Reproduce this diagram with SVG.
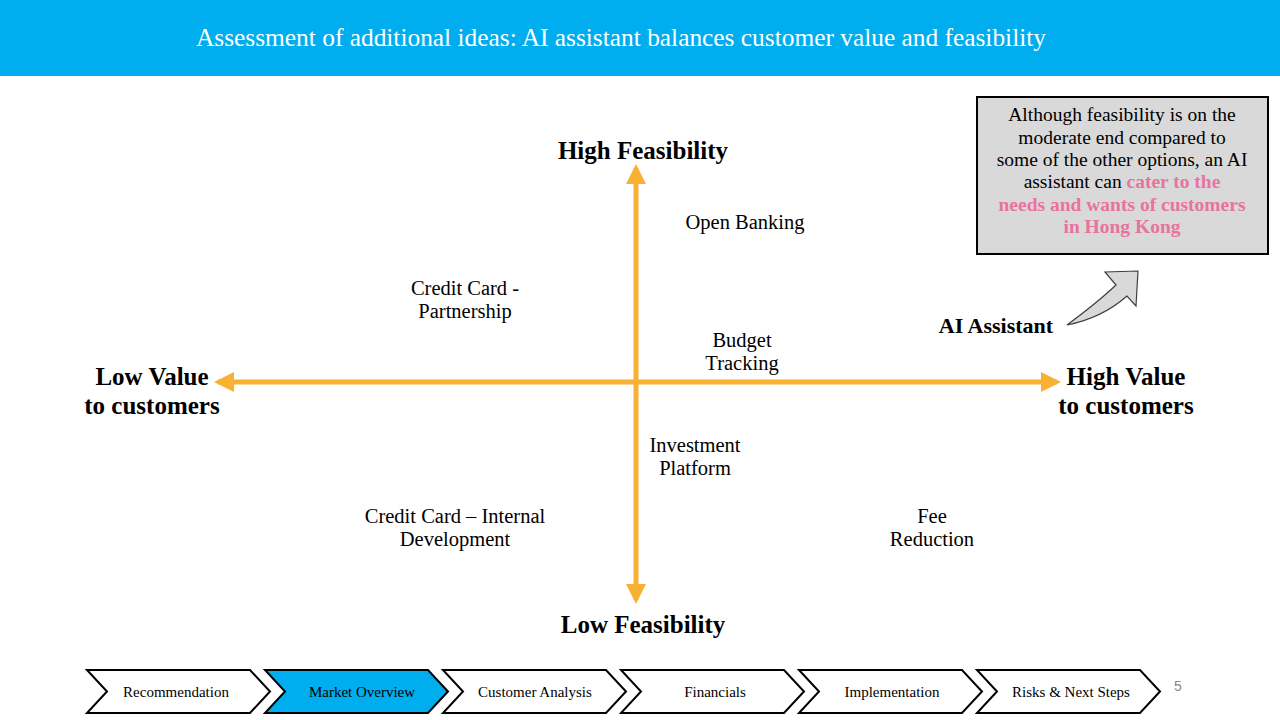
<svg xmlns="http://www.w3.org/2000/svg" width="1280" height="720" viewBox="0 0 1280 720">
<defs>
<style>
text{font-family:"Liberation Serif","DejaVu Serif",serif;fill:#000;text-anchor:middle}
.t{font-size:20.5px}
.b{font-size:25px;font-weight:bold}
.chev{fill:#fff;stroke:#000;stroke-width:2}
.ct{font-size:15px}
.cb{font-size:19.5px}
.pk{fill:#E8739E;font-weight:bold}
.axis{stroke:#F8B133;stroke-width:5;fill:none}
</style>
<marker id="ah" viewBox="0 0 10 10" refX="8" refY="5" markerWidth="4" markerHeight="4" orient="auto-start-reverse" markerUnits="strokeWidth">
<path d="M0,0 L10,5 L0,10 Z" fill="#F8B133"/>
</marker>
</defs>
<rect width="1280" height="720" fill="#fff"/>
<g id="header">
<rect x="0" y="0" width="1280" height="76" fill="#00AEEF"/>
<text x="621" y="46" style="font-size:25px;fill:#fff" textLength="850" lengthAdjust="spacingAndGlyphs">Assessment of additional ideas: AI assistant balances customer value and feasibility</text>
</g>
<g id="connectors">
<line class="axis" x1="636" y1="168" x2="636" y2="600" marker-start="url(#ah)" marker-end="url(#ah)"/>
<line class="axis" x1="218" y1="382" x2="1057" y2="382" marker-start="url(#ah)" marker-end="url(#ah)"/>
<path d="M1067,325 Q1098,302 1116,285 L1105,272 L1138,271 L1136,306 L1127,296 Q1102,318 1067,325 Z" fill="#D9D9D9" stroke="#404040" stroke-width="1.2"/>
</g>
<g id="high-feasibility"><text class="b" x="643" y="159">High Feasibility</text></g>
<g id="low-feasibility"><text class="b" x="643" y="633">Low Feasibility</text></g>
<g id="low-value"><text class="b" x="152" y="385">Low Value</text><text class="b" x="152" y="414">to customers</text></g>
<g id="high-value"><text class="b" x="1126" y="385">High Value</text><text class="b" x="1126" y="414">to customers</text></g>
<g id="open-banking"><text class="t" x="745" y="229">Open Banking</text></g>
<g id="cc-partnership"><text class="t" x="465" y="295">Credit Card -</text><text class="t" x="465" y="318">Partnership</text></g>
<g id="budget-tracking"><text class="t" x="742" y="347">Budget</text><text class="t" x="742" y="370">Tracking</text></g>
<g id="investment-platform"><text class="t" x="695" y="452">Investment</text><text class="t" x="695" y="475">Platform</text></g>
<g id="cc-internal"><text class="t" x="455" y="523">Credit Card – Internal</text><text class="t" x="455" y="546">Development</text></g>
<g id="fee-reduction"><text class="t" x="932" y="523">Fee</text><text class="t" x="932" y="546">Reduction</text></g>
<g id="ai-assistant"><text x="996" y="333" style="font-size:22px;font-weight:bold">AI Assistant</text></g>
<g id="callout">
<rect x="977" y="97" width="291" height="157" fill="#D9D9D9" stroke="#000" stroke-width="2"/>
<text class="cb" x="1122" y="121">Although feasibility is on the</text>
<text class="cb" x="1122" y="144">moderate end compared to</text>
<text class="cb" x="1122" y="166">some of the other options, an AI</text>
<text class="cb" x="1122" y="188">assistant can <tspan class="pk">cater to the</tspan></text>
<text class="cb pk" x="1122" y="211">needs and wants of customers</text>
<text class="cb pk" x="1122" y="233">in Hong Kong</text>
</g>
<g id="nav-recommendation"><path class="chev" d="M87,670 L250,670 L270,691.5 L250,713 L87,713 L107,691.5 Z"/><text class="ct" x="176" y="697">Recommendation</text></g>
<g id="nav-market"><path class="chev" d="M265,670 L428,670 L448,691.5 L428,713 L265,713 L285,691.5 Z" style="fill:#00AEEF"/><text class="ct" x="362" y="697">Market Overview</text></g>
<g id="nav-customer"><path class="chev" d="M443,670 L606,670 L626,691.5 L606,713 L443,713 L463,691.5 Z"/><text class="ct" x="535" y="697">Customer Analysis</text></g>
<g id="nav-financials"><path class="chev" d="M621,670 L784,670 L804,691.5 L784,713 L621,713 L641,691.5 Z"/><text class="ct" x="715" y="697">Financials</text></g>
<g id="nav-implementation"><path class="chev" d="M799,670 L962,670 L982,691.5 L962,713 L799,713 L819,691.5 Z"/><text class="ct" x="892" y="697">Implementation</text></g>
<g id="nav-risks"><path class="chev" d="M977,670 L1140,670 L1160,691.5 L1140,713 L977,713 L997,691.5 Z"/><text class="ct" x="1071" y="697">Risks &amp; Next Steps</text></g>
<g id="page"><text x="1178" y="691" style="font-family:'Liberation Sans',sans-serif;font-size:14px;fill:#888">5</text></g>
</svg>
